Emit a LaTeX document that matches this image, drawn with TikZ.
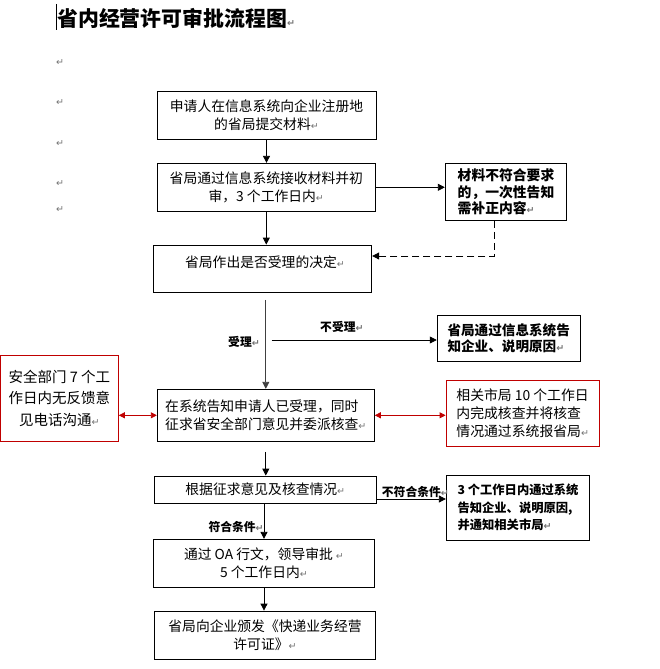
\documentclass[tikz,border=0pt]{standalone}
\usepackage{fontspec}
\setmainfont{Noto Sans CJK SC}
\newfontfamily\dvsfont{DejaVu Sans}
\usetikzlibrary{arrows.meta}
\definecolor{wred}{RGB}{192,0,0}
\newcommand\retmark{{\dvsfont\color{black!55}\fontsize{9.5}{9.5}\selectfont ↵}}
\newcommand\fmain{\fontsize{13.8}{17.7}\selectfont}
\begin{document}
\begin{tikzpicture}[x=1pt,y=-1pt,
  box/.style={draw,line width=0.9pt,inner sep=0pt,align=center,font=\fmain},
  redbox/.style={draw=wred,line width=0.9pt,inner sep=0pt},
  lbl/.style={inner sep=0pt,anchor=west,font=\fontsize{11.8}{12}\selectfont\bfseries},
  arr/.style={line width=0.8pt,-{Triangle[length=7pt,width=7pt]}},
  rarr/.style={wred,line width=0.8pt,{Triangle[length=6pt,width=6pt]}-{Triangle[length=6pt,width=6pt]}},
  dsh/.style={line width=0.8pt,dash pattern=on 7pt off 4pt,-{Triangle[length=7pt,width=7pt]}}]
\useasboundingbox[fill=white] (0,0) rectangle (660,669);

% title
\node[inner sep=0pt,anchor=west,font=\fontsize{20.9}{21}\selectfont\bfseries] (title) at (57,18.5) {省内经营许可审批流程图\retmark};
\draw[line width=1.3pt] (56.5,4) -- (56.5,30);

% margin paragraph marks
\foreach \yy [count=\i] in {62.7,102.3,143.3,183.3,210}
  \node[inner sep=0pt] (m\i) at (60,\yy) {\retmark};

% main boxes
\node[box,minimum width=219pt,minimum height=48pt] (b1) at (266.5,115) {申请人在信息系统向企业注册地\\的省局提交材料\retmark};
\node[box,minimum width=218pt,minimum height=48pt] (b2) at (266.3,187.3) {省局通过信息系统接收材料并初\\审，3 个工作日内\retmark};
\node[box,align=left,minimum width=121.4pt,minimum height=57pt,font=\fontsize{13.8}{16.5}\selectfont\bfseries] (n3) at (506,191.8) {材料不符合要求\\的，一次性告知\\需补正内容\retmark};
\node[box,minimum width=218.4pt,minimum height=47.3pt] (b4) at (262.5,268.7) {};
\node[inner sep=0pt,font=\fmain] (b4t) at (265,262) {省局作出是否受理的决定\retmark};
\node[box,align=left,minimum width=143pt,minimum height=46pt,font=\fontsize{13.6}{16.7}\selectfont\bfseries] (n6) at (508.7,338.3) {省局通过信息系统告\\知企业、说明原因\retmark};
\node[redbox,align=center,minimum width=117.9pt,minimum height=86pt,font=\fontsize{14.5}{21.5}\selectfont] (rl) at (59.4,398.3) {安全部门 7 个工\\作日内无反馈意\\见电话沟通\retmark};
\node[box,align=left,minimum width=217pt,minimum height=52pt] (b5) at (265.8,415.3) {在系统告知申请人已受理，同时\\征求省安全部门意见并委派核查\retmark};
\node[redbox,align=left,minimum width=153.3pt,minimum height=66pt,font=\fontsize{13.85}{18.3}\selectfont] (rr) at (522.7,413.3) {相关市局 10 个工作日\\内完成核查并将核查\\情况通过系统报省局\retmark};
\node[box,minimum width=222.7pt,minimum height=27.3pt] (b7) at (265.3,489.7) {根据征求意见及核查情况\retmark};
\node[box,align=left,minimum width=143.4pt,minimum height=65.3pt,font=\fontsize{12.3}{17.5}\selectfont\bfseries] (n8) at (518,507.7) {3 个工作日内通过系统\\告知企业、说明原因,\\并通知相关市局\retmark};
\node[box,minimum width=221.3pt,minimum height=48pt] (b9) at (264,563.3) {通过 OA 行文，领导审批 \retmark\\5 个工作日内\retmark};
\node[box,minimum width=221.4pt,minimum height=48.3pt] (b10) at (265,635.2) {省局向企业颁发《快递业务经营\\许可证》\retmark};

% labels
\node[lbl] (l1) at (228,342) {受理\retmark};
\node[lbl] (l2) at (320,326.5) {不受理\retmark};
\node[lbl] (l3) at (381.7,491.7) {不符合条件\retmark};
\node[lbl] (l4) at (208.3,526.7) {符合条件\retmark};

% helper coordinates
\coordinate (d0) at (494,0);
\coordinate (d1) at (377,256);
\coordinate (s1) at (271.7,340);
\coordinate (s2) at (0,499);

% connectors
\draw[arr] (b1.south) -- (b1.south |- b2.north);
\draw[arr] (b2.east) -- (n3.west |- b2.east);
\draw[arr] (b2.south) -- (b2.south |- b4.north);
\draw[dsh] (n3.south -| d0) |- (b4.east |- d1);
\draw[arr,black!75,shorten <=7pt] (b5.north |- b4.south) -- (b5.north);
\draw[arr] (s1) -- (n6.west |- s1);
\draw[rarr] (rl.east |- b5.west) -- (b5.west);
\draw[rarr] (b5.east) -- (rr.west |- b5.east);
\draw[arr,shorten <=10pt] (b5.south) -- (b5.south |- b7.north);
\draw[arr] (b7.east |- s2) -- (n8.west |- s2);
\draw[arr] (b9.north |- b7.south) -- (b9.north);
\draw[arr] (b9.south) -- (b9.south |- b10.north);
\end{tikzpicture}
\end{document}
